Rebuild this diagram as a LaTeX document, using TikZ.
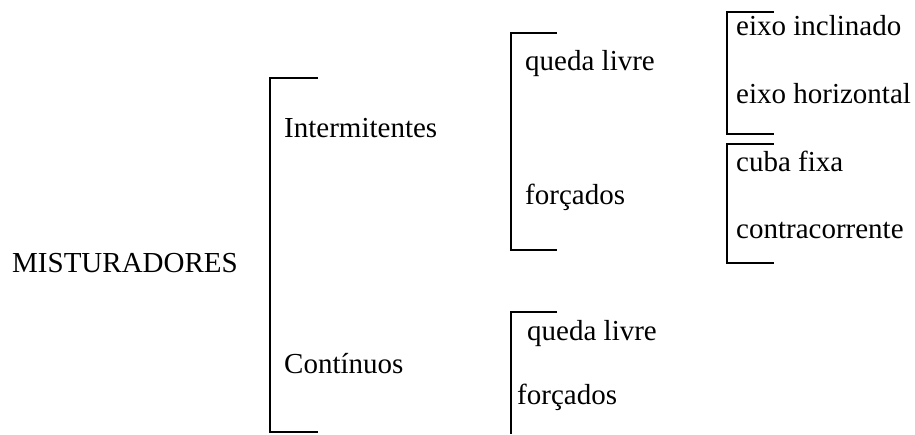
\documentclass[tikz,border=0pt]{standalone}
\usepackage{fontspec}
\setmainfont{Liberation Serif}
\usepackage{tikz}

\tikzset{
  lbl/.style={anchor=base west, inner sep=0pt, font=\fontsize{29}{34}\selectfont},
  brk/.style={line width=2pt}
}

\begin{document}
\begin{tikzpicture}[x=1pt,y=-1pt]
\useasboundingbox (0,0) rectangle (915,434);
% draw root
\node[lbl] (mist) at (12,272) {MISTURADORES};
\draw[brk] (318,78) -- (270,78) -- (270,432) -- (318,432);
% draw level one
\node[lbl] (inter) at (284,137) {Intermitentes};
\node[lbl] (cont) at (284,373) {Contínuos};
% draw intermitentes
\draw[brk] (557,33) -- (510.5,33) -- (510.5,250) -- (557,250);
\node[lbl] (iqueda) at (525,70) {queda livre};
\node[lbl] (iforc) at (525,204) {forçados};
% draw continuos
\draw[brk] (557,312) -- (510.5,312) -- (510.5,434);
\node[lbl] (cqueda) at (527,340) {queda livre};
\node[lbl] (cforc) at (517,404) {forçados};
% draw queda livre
\draw[brk] (774,12) -- (726.5,12) -- (726.5,134) -- (774,134);
\node[lbl] (incl) at (736,35) {eixo inclinado};
\node[lbl] (horiz) at (736,103) {eixo horizontal};
% draw forcados
\draw[brk] (774,144) -- (726.5,144) -- (726.5,263) -- (774,263);
\node[lbl] (cuba) at (736,171) {cuba fixa};
\node[lbl] (contra) at (736,238) {contracorrente};
\end{tikzpicture}
\end{document}
